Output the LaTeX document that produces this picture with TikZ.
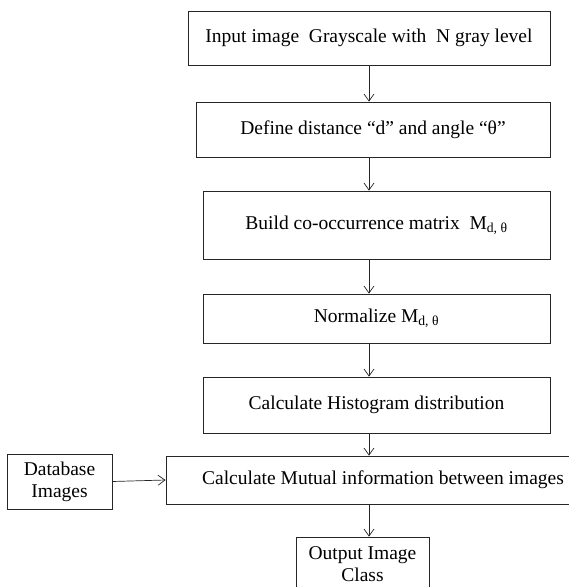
\documentclass[tikz,border=0pt]{standalone}
\usepackage{fontspec}
\setmainfont{Liberation Serif}
\usetikzlibrary{arrows.meta}
\begin{document}
\begin{tikzpicture}[x=1pt,y=-1pt,
  box/.style={draw=black!85, line width=0.8pt, inner sep=0pt, font=\fontsize{19.5}{22}\selectfont, align=center},
  arr/.style={draw=black!85, -{Straight Barb[length=7pt,width=10pt]}, line width=0.7pt}]
\useasboundingbox (0,0) rectangle (569,587);
\clip (0,0) rectangle (569,587);
\node[box, minimum width=362pt, minimum height=54pt] (b1) at (369,38) {Input image~ Grayscale with~ N gray level};
\node[box, minimum width=354pt, minimum height=55pt] (b2) at (373,129.5) {Define distance “d” and angle “θ”};
\node[box, minimum width=347pt, minimum height=68pt] (b3) at (376.5,225) {Build co-occurrence matrix~ M\textsubscript{d, θ}};
\node[box, minimum width=347pt, minimum height=49pt] (b4) at (376.5,318.5) {Normalize M\textsubscript{d, θ}};
\node[box, minimum width=347pt, minimum height=56pt] (b5) at (376.5,405) {Calculate Histogram distribution};
\node[box, minimum width=434pt, minimum height=48pt] (b6) at (383,480) {Calculate Mutual information between images};
\node[box, minimum width=105pt, minimum height=55pt] (db) at (59.5,481.5) {Database\\Images};
\node[box, minimum width=133pt, minimum height=55pt] (out) at (362.5,564.5) {Output Image\\Class};
\draw[arr] (b1.south) -- (b2.north -| b1.south);
\draw[arr] (b2.south -| b1.south) -- (b3.north -| b1.south);
\draw[arr] (b3.south -| b1.south) -- (b4.north -| b1.south);
\draw[arr] (b4.south -| b1.south) -- (b5.north -| b1.south);
\draw[arr] (b5.south -| b1.south) -- (b6.north -| b1.south);
\draw[arr] (b6.south -| b1.south) -- (out.north -| b1.south);
\draw[arr] (db.east) -- (b6.west);
\end{tikzpicture}
\end{document}
